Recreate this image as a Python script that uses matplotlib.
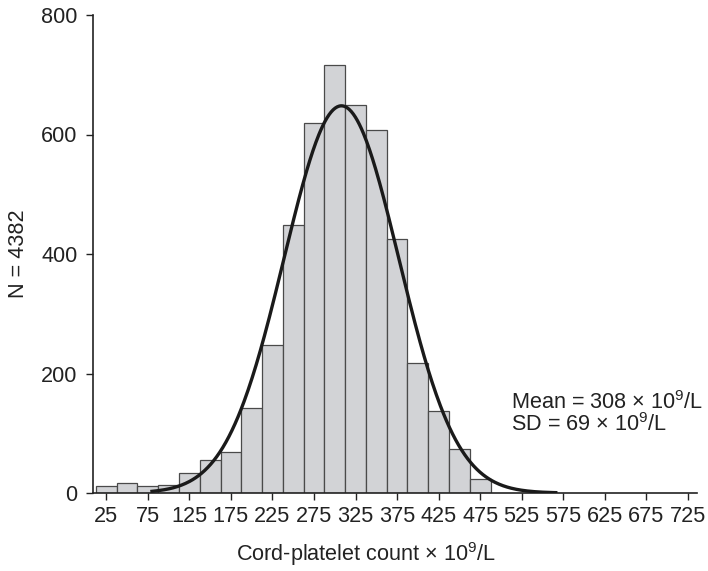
import numpy as np
import matplotlib
matplotlib.use("Agg")
import matplotlib.pyplot as plt

# Data
bin_centers = [25, 50, 75, 100, 125, 150, 175, 200, 225, 250, 275, 300,
               325, 350, 375, 400, 425, 450, 475]
counts = [12, 16, 11, 13, 33, 55, 68, 143, 247, 448, 620, 716,
          650, 608, 425, 218, 138, 73, 24]
bin_width = 25
mean_val = 308
sd_val = 69
curve_peak = 648
curve_start, curve_end = 80, 566
xticks = list(range(25, 726, 50))
yticks = [0, 200, 400, 600, 800]

plt.rcParams['font.family'] = ['Liberation Sans', 'DejaVu Sans']
plt.rcParams['mathtext.default'] = 'regular'

FS = 15.6
TXT = '#222222'

fig = plt.figure(figsize=(7.08, 5.71), dpi=100)
ax = fig.add_axes([93/708, 1 - 493/571, (697-93)/708, (493-15)/571])

ax.bar(bin_centers, counts, width=bin_width, color='#d2d3d6',
       edgecolor='#4a4a4a', linewidth=0.9, zorder=2)

xs = np.linspace(curve_start, curve_end, 400)
ys = curve_peak * np.exp(-0.5 * ((xs - mean_val) / sd_val) ** 2)
ax.plot(xs, ys, color='#1a1a1a', linewidth=2.4, zorder=3)

ax.set_xlim(9, 736)
ax.set_ylim(0, 800)
ax.set_xticks(xticks)
ax.set_yticks(yticks)
ax.tick_params(axis='both', labelsize=FS, length=5, width=1, colors=TXT,
               direction='out')
ax.tick_params(axis='x', pad=4.5)
ax.tick_params(axis='y', pad=6)
for s in ['top', 'right']:
    ax.spines[s].set_visible(False)
for s in ['left', 'bottom']:
    ax.spines[s].set_linewidth(1.2)
    ax.spines[s].set_color(TXT)

ax.set_ylabel('N = 4382', fontsize=FS, color=TXT)
ax.yaxis.set_label_coords(-(93 - 18) / 604, 0.5)
ax.set_xlabel('Cord-platelet count × 10$^{9}$/L', fontsize=FS, color=TXT)
ax.xaxis.set_label_coords((366 - 93) / 604, -(554 - 493) / 478)
ax.xaxis.label.set_va('center')
ax.yaxis.label.set_va('center')

ax.text(512, 152, 'Mean = 308 × 10$^{9}$/L', fontsize=FS,
        color=TXT, va='center')
ax.text(512, 115, 'SD = 69 × 10$^{9}$/L', fontsize=FS,
        color=TXT, va='center')

fig.savefig('out.png', dpi=100)
